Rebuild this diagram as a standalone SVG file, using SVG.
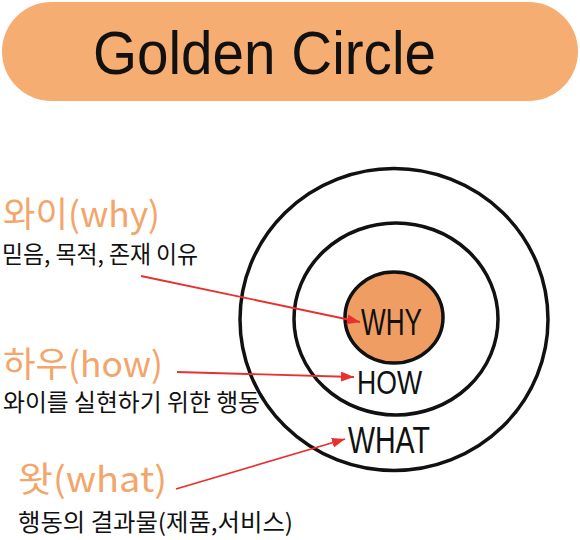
<svg xmlns="http://www.w3.org/2000/svg" width="580" height="540" viewBox="0 0 580 540">
  <style>
    .ring { fill: none; stroke: #111; stroke-width: 3.5; }
    .core { fill: #F09D63; stroke: #111; stroke-width: 3.5; }
    .ring-label { font-family: "Liberation Sans", "Noto Sans", sans-serif; fill: #111; }
    .head { font-family: "Noto Sans CJK KR", "Liberation Sans", sans-serif; fill: #F3A56A; font-weight: 400; }
    .desc { font-family: "Noto Sans CJK KR", "Liberation Sans", sans-serif; fill: #111; }
    .arrow { stroke: #E8302E; stroke-width: 1.8; fill: none; marker-end: url(#ah); }
  </style>
  <defs>
    <marker id="ah" markerUnits="userSpaceOnUse" markerWidth="14" markerHeight="12" refX="13" refY="5" orient="auto">
      <path d="M0,0 L13,5 L0,10 Z" fill="#E8302E"/>
    </marker>
  </defs>
  <rect width="580" height="540" fill="#FFFFFF"/>

  <g id="title">
    <rect x="2" y="2" width="576" height="99" rx="49.5" fill="#F5AD72"/>
    <text x="93" y="74" font-family="Liberation Sans, sans-serif" font-size="62" fill="#111" textLength="343" lengthAdjust="spacingAndGlyphs">Golden Circle</text>
  </g>

  <g id="what-circle">
    <ellipse class="ring" cx="394" cy="319.5" rx="154" ry="151"/>
    <text class="ring-label" x="348" y="453" font-size="36" textLength="82" lengthAdjust="spacingAndGlyphs">WHAT</text>
  </g>
  <g id="how-circle">
    <ellipse class="ring" cx="396" cy="319" rx="102" ry="96"/>
    <text class="ring-label" x="357" y="394" font-size="34" textLength="65" lengthAdjust="spacingAndGlyphs">HOW</text>
  </g>
  <g id="why-circle">
    <ellipse class="core" cx="394" cy="317.5" rx="49" ry="45.5"/>
    <text class="ring-label" x="361" y="335" font-size="37" textLength="61" lengthAdjust="spacingAndGlyphs">WHY</text>
  </g>

  <g id="why-label">
    <text class="head" x="3" y="227" font-size="35" textLength="157" lengthAdjust="spacingAndGlyphs">와이(why)</text>
    <text class="desc" x="2" y="263" font-size="24" textLength="196" lengthAdjust="spacingAndGlyphs">믿음, 목적, 존재 이유</text>
  </g>
  <g id="how-label">
    <text class="head" x="3" y="377" font-size="35" textLength="160" lengthAdjust="spacingAndGlyphs">하우(how)</text>
    <text class="desc" x="3" y="411" font-size="24" textLength="257" lengthAdjust="spacingAndGlyphs">와이를 실현하기 위한 행동</text>
  </g>
  <g id="what-label">
    <text class="head" x="18" y="492" font-size="35" textLength="149" lengthAdjust="spacingAndGlyphs">왓(what)</text>
    <text class="desc" x="18" y="531" font-size="24" textLength="275" lengthAdjust="spacingAndGlyphs">행동의 결과물(제품,서비스)</text>
  </g>

  <g id="connectors">
    <line class="arrow" x1="141" y1="276" x2="360" y2="322"/>
    <line class="arrow" x1="177" y1="372" x2="354" y2="377"/>
    <line class="arrow" x1="176" y1="489" x2="345" y2="439"/>
  </g>
</svg>
